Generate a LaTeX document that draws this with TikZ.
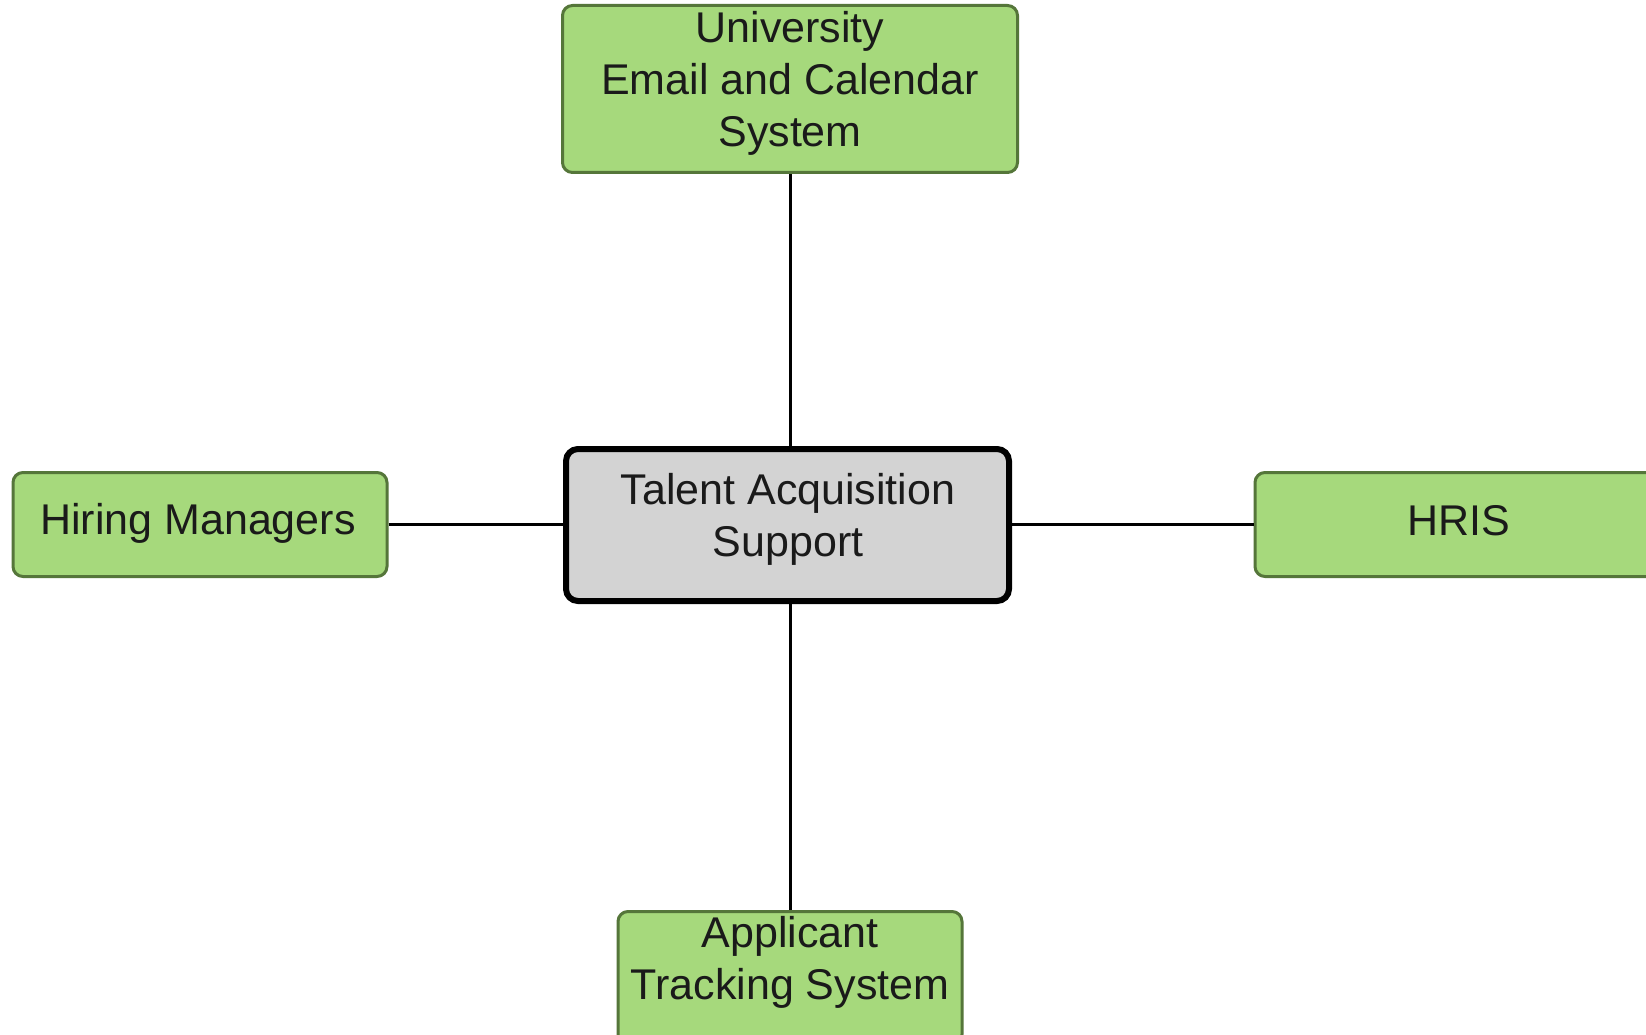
\documentclass[tikz,border=0pt]{standalone}
\usepackage{fontspec}
\setmainfont{Liberation Sans}
\definecolor{boxfill}{HTML}{A6D97C}
\definecolor{boxedge}{HTML}{55763A}
\definecolor{hubfill}{HTML}{D3D3D3}
\definecolor{txt}{HTML}{1A1A1A}
\begin{document}
\begin{tikzpicture}[x=1pt,y=-1pt,
  greenbox/.style={draw=boxedge, fill=boxfill, line width=3pt, rounded corners=10pt, inner sep=0pt},
  hubbox/.style={draw=black, fill=hubfill, line width=6pt, rounded corners=12pt, inner sep=0pt},
  lbl/.style={text=txt, align=center, font=\fontsize{43}{52}\selectfont, inner sep=0pt},
  conn/.style={draw=black, line width=3pt}]
\useasboundingbox (0,0) rectangle (1646,1035);
\fill[white] (0,0) rectangle (1646,1035);
% boxes
\node[greenbox, minimum width=455pt, minimum height=167pt] (uni) at (790,89) {};
\node[hubbox, minimum width=443pt, minimum height=152pt] (hub) at (787.5,525) {};
\node[greenbox, minimum width=374pt, minimum height=104pt] (hire) at (200,524.5) {};
\node[greenbox, minimum width=410pt, minimum height=104pt] (hris) at (1460,524.5) {};
\node[greenbox, minimum width=344pt, minimum height=133pt] (app) at (790,978) {};
% texts
\node[lbl] (unit) at (790,83) {University\\Email and Calendar\\System};
\node[lbl] (hubt) at (788,519) {Talent Acquisition\\Support};
\node[lbl] (hiret) at (198,523) {Hiring Managers};
\node[lbl] (hrist) at (1459,521) {HRIS};
\node[lbl] (appt) at (790,962) {Applicant\\Tracking System};
% connectors
\draw[conn] (hub.north -| uni.south) -- (uni.south);
\draw[conn] (hub.south -| app.north) -- (app.north);
\draw[conn] (hire.east) -- (hire.east -| hub.west);
\draw[conn] (hub.east |- hris.west) -- (hris.west);
\end{tikzpicture}
\end{document}
